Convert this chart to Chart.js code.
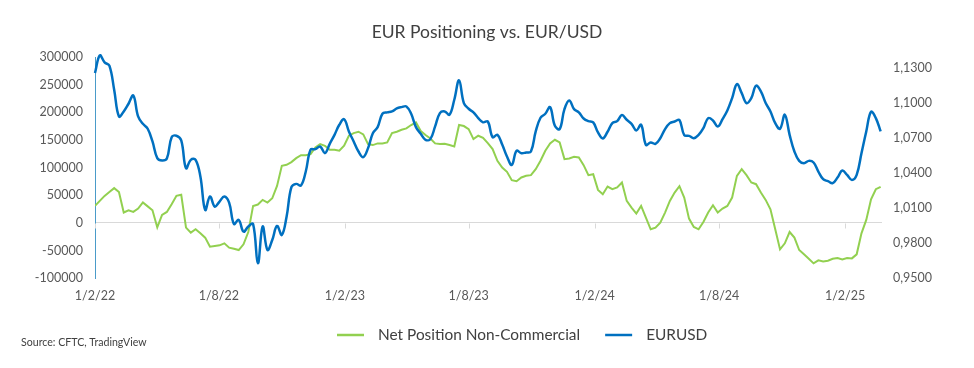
<!DOCTYPE html>
<html>
<head>
<meta charset="utf-8">
<script src="https://cdn.jsdelivr.net/npm/chart.js@4.4.1/dist/chart.umd.min.js"></script>
<style>
  html, body { margin: 0; padding: 0; background: #ffffff; }
  #wrap { width: 974px; height: 368px; }
</style>
</head>
<body>
<div id="wrap"><canvas id="myChart" width="974" height="368"></canvas></div>
<script>
// weekly readings, first one on 1 Feb 2022
const weekDays = 7;

const netPosition = [
  31000, 40000, 49000, 56000, 63000, 56000, 19000, 23000, 20000, 26000,
  37000, 30000, 23000, -8000, 14500, 20000, 34000, 49000, 51000, -8400,
  -17500, -11400, -18700, -26500, -42800, -41600, -40400, -36800, -44600, -46500,
  -48900, -38600, -16300, 30800, 33300, 41700, 36900, 44700, 67000, 103400,
  105100, 110000, 117200, 122600, 122600, 124400, 136500, 142600, 139500, 132300,
  132300, 130500, 139500, 157700, 162500, 164900, 160100, 142600, 140800, 143800,
  143800, 145600, 162500, 164900, 168500, 171000, 177000, 181800, 166100, 158900,
  152800, 143800, 142600, 143200, 140800, 138300, 177000, 175200, 169700, 151600,
  157700, 154000, 144400, 133500, 112400, 100300, 92400, 77300, 75500, 82200,
  85200, 86400, 97300, 112400, 130500, 143800, 150400, 145600, 115400, 116600,
  119600, 118400, 104500, 86400, 88200, 59800, 52000, 65900, 61000, 64100,
  73100, 39900, 27800, 17000, 30800, 9700, -11400, -8400, 700, 18800,
  39900, 55000, 66500, 45900, 7900, -7200, -11400, 1900, 18800, 32000,
  18800, 26000, 30800, 45900, 85200, 97300, 86400, 73100, 70100, 55000,
  41700, 24800, -11400, -47700, -36800, -16300, -26500, -48900, -56700, -64600,
  -73000, -67600, -69400, -68200, -64600, -63400, -65800, -63400, -64000, -56700,
  -18700, 5500, 42900, 61000, 65300
];

const eurusd = [
  1.1257, 1.1408, 1.1348, 1.1320, 1.1114, 1.0885, 1.0928, 1.0994, 1.1065, 1.0885,
  1.0822, 1.0780, 1.0671, 1.0528, 1.0508, 1.0525, 1.0708, 1.0720, 1.0680, 1.0442,
  1.0514, 1.0514, 1.0371, 1.0085, 1.0200, 1.0114, 1.0157, 1.0200, 1.0148, 0.9965,
  1.0000, 0.9900, 0.9943, 0.9965, 0.9628, 0.9943, 0.9742, 0.9828, 0.9948, 0.9871,
  1.0028, 1.0280, 1.0308, 1.0294, 1.0414, 1.0600, 1.0605, 1.0628, 1.0571, 1.0651,
  1.0728, 1.0814, 1.0862, 1.0757, 1.0671, 1.0585, 1.0537, 1.0614, 1.0742, 1.0794,
  1.0908, 1.0920, 1.0928, 1.0954, 1.0965, 1.0971, 1.0908, 1.0794, 1.0737, 1.0685,
  1.0691, 1.0800, 1.0914, 1.0928, 1.0900, 1.1028, 1.1194, 1.1000, 1.0951, 1.0920,
  1.0871, 1.0835, 1.0842, 1.0708, 1.0728, 1.0645, 1.0542, 1.0471, 1.0591, 1.0571,
  1.0577, 1.0585, 1.0757, 1.0874, 1.0908, 1.0965, 1.0805, 1.0777, 1.0948, 1.1022,
  1.0948, 1.0920, 1.0868, 1.0845, 1.0834, 1.0748, 1.0697, 1.0754, 1.0828, 1.0845,
  1.0897, 1.0857, 1.0822, 1.0765, 1.0814, 1.0642, 1.0662, 1.0651, 1.0699, 1.0777,
  1.0828, 1.0842, 1.0855, 1.0725, 1.0719, 1.0699, 1.0728, 1.0785, 1.0871, 1.0851,
  1.0799, 1.0862, 1.0937, 1.1042, 1.1162, 1.1085, 1.1000, 1.1042, 1.1148, 1.1100,
  1.1000, 1.0928, 1.0828, 1.0780, 1.0900, 1.0728, 1.0585, 1.0505, 1.0485, 1.0505,
  1.0491, 1.0414, 1.0348, 1.0331, 1.0314, 1.0362, 1.0422, 1.0385, 1.0342, 1.0385,
  1.0571, 1.0757, 1.0925, 1.0871, 1.0757
];

// x ticks: days after 1 Feb 2022
const tickDays = [0, 181, 365, 546, 730, 912, 1096];
const tickLabels = ["1/2/22", "1/8/22", "1/2/23", "1/8/23", "1/2/24", "1/8/24", "1/2/25"];
const rightTicks = [0.95, 0.98, 1.01, 1.04, 1.07, 1.10, 1.13];
const seriesNames = ["Net Position Non-Commercial", "EURUSD"];
const seriesColors = ["#92d050", "#0070c0"];
const chartTitle = "EUR Positioning vs. EUR/USD";
const sourceNote = "Source: CFTC, TradingView";

const toPoints = (arr) => arr.map((v, i) => ({ x: i * weekDays, y: v }));

Chart.defaults.font.family = "Lato, 'Open Sans', sans-serif";

// small ticks under the zero line, like the excel category axis
const zeroTicks = {
  id: "zeroTicks",
  beforeDatasetsDraw(chart) {
    const ctx = chart.ctx;
    const xs = chart.scales.x;
    const y0 = Math.round(chart.scales.y.getPixelForValue(0)) + 0.5;
    ctx.save();
    ctx.strokeStyle = "#d9d9d9";
    ctx.lineWidth = 1;
    tickDays.forEach((d) => {
      const px = Math.round(xs.getPixelForValue(d)) + 0.5;
      ctx.beginPath();
      ctx.moveTo(px, y0);
      ctx.lineTo(px, y0 + 5);
      ctx.stroke();
    });
    ctx.restore();
  }
};

// legend + source line at the bottom
const bottomNotes = {
  id: "bottomNotes",
  afterDraw(chart) {
    const ctx = chart.ctx;
    ctx.save();
    ctx.textBaseline = "middle";
    ctx.font = "15.4px Lato";
    let x = 337;
    const y = 335;
    chart.data.datasets.forEach((ds) => {
      ctx.strokeStyle = ds.borderColor;
      ctx.lineWidth = 2.5;
      ctx.beginPath();
      ctx.moveTo(x, y);
      ctx.lineTo(x + 27, y);
      ctx.stroke();
      ctx.fillStyle = "#404040";
      ctx.fillText(ds.label, x + 41, y);
      x += 41 + ctx.measureText(ds.label).width + 25;
    });
    ctx.font = "10.6px Lato";
    ctx.fillStyle = "#404040";
    ctx.fillText(sourceNote, 21, 343);
    ctx.restore();
  }
};

const ctx = document.getElementById("myChart");
new Chart(ctx, {
  type: "line",
  data: {
    datasets: [
      {
        label: seriesNames[0],
        data: toPoints(netPosition),
        yAxisID: "y",
        borderColor: seriesColors[0],
        backgroundColor: seriesColors[0],
        borderWidth: 2,
        pointRadius: 0,
        tension: 0,
        order: 1
      },
      {
        label: seriesNames[1],
        data: toPoints(eurusd),
        yAxisID: "y1",
        borderColor: seriesColors[1],
        backgroundColor: seriesColors[1],
        borderWidth: 2.5,
        pointRadius: 0,
        tension: 0.4,
        clip: false,
        order: 0
      }
    ]
  },
  options: {
    responsive: false,
    animation: false,
    devicePixelRatio: 1,
    layout: { padding: 0 },
    plugins: {
      legend: { display: false },
      tooltip: { enabled: false },
      title: {
        display: true,
        text: chartTitle,
        color: "#404040",
        font: { size: 17.5, weight: "normal" },
        padding: { top: 22, bottom: 14 }
      }
    },
    scales: {
      x: {
        type: "linear",
        min: 0,
        max: 1150,
        grid: { display: false, drawTicks: false },
        border: { display: false },
        afterBuildTicks: (scale) => {
          scale.ticks = tickDays.map((d) => ({ value: d }));
        },
        afterFit: (scale) => { scale.height = 89.7; },
        ticks: {
          color: "#595959",
          font: { size: 12.5 },
          padding: 10,
          maxRotation: 0,
          autoSkip: false,
          callback: (value) => tickLabels[tickDays.indexOf(value)]
        }
      },
      y: {
        position: "left",
        min: -100000,
        max: 300000,
        grid: {
          drawTicks: false,
          color: (c) => (c.tick && c.tick.value === 0 ? "#d9d9d9" : "rgba(0,0,0,0)")
        },
        border: { display: true, color: "#4a9bc9", width: 1 },
        afterFit: (scale) => { scale.width = 95; },
        ticks: {
          stepSize: 50000,
          color: "#595959",
          font: { size: 12.5 },
          padding: 12,
          callback: (value) => String(value)
        }
      },
      y1: {
        position: "right",
        min: 0.95,
        max: 1.1394,
        grid: { display: false, drawTicks: false },
        border: { display: false },
        afterBuildTicks: (scale) => {
          scale.ticks = rightTicks.map((v) => ({ value: v }));
        },
        afterFit: (scale) => { scale.width = 92; },
        ticks: {
          color: "#595959",
          font: { size: 12.5 },
          padding: 11,
          callback: (value) => value.toFixed(4).replace(".", ",")
        }
      }
    }
  },
  plugins: [zeroTicks, bottomNotes]
});
</script>
</body>
</html>
